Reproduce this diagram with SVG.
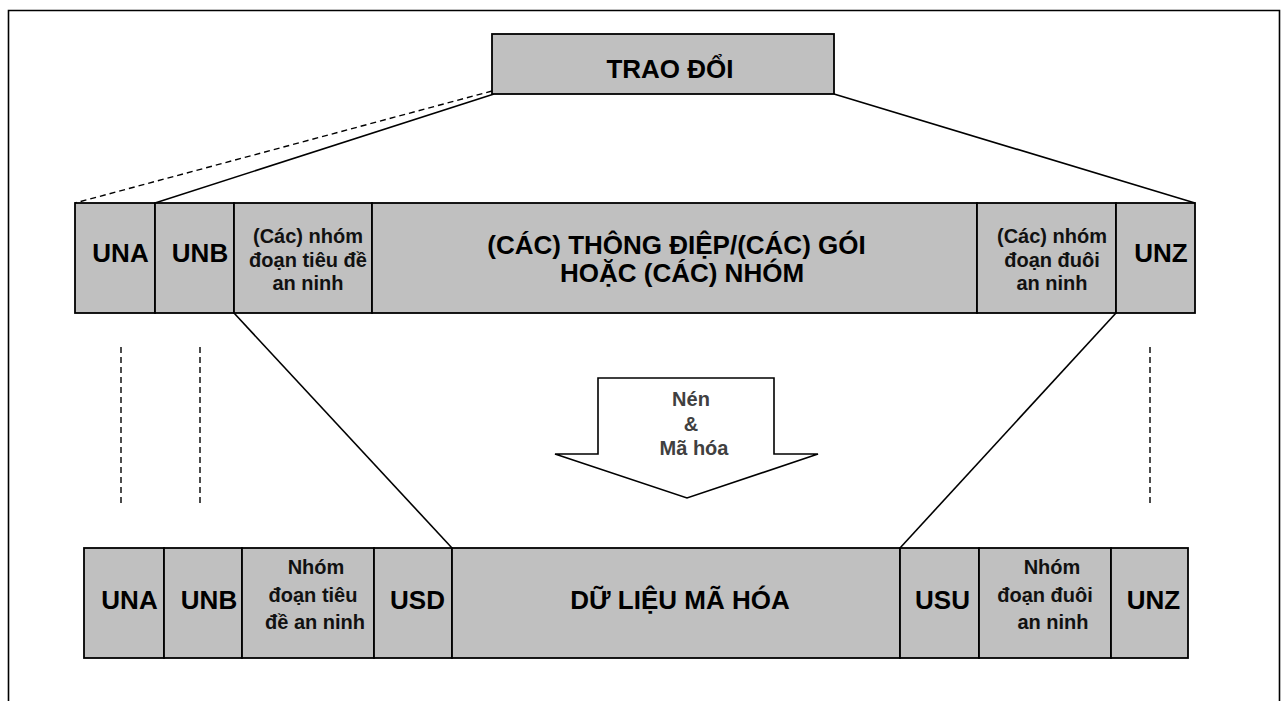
<svg xmlns="http://www.w3.org/2000/svg" width="1282" height="701" viewBox="0 0 1282 701">
<style>
.b{fill:#c0c0c0;stroke:#000;stroke-width:1.8}
.l{stroke:#000;stroke-width:1.6;fill:none}
.d{stroke:#000;stroke-width:1.4;fill:none;stroke-dasharray:6,4}
.t{font-family:"Liberation Sans",Arial,sans-serif;font-weight:bold;text-anchor:middle;fill:#000}
.big{font-size:26px}
.sm{font-size:20px;fill:#111}
.g{font-size:20px;fill:#404040}
</style>
<rect width="1282" height="701" fill="#fff"/>
<path d="M8.5 720 V10.5 H1279.5 V720" class="l" stroke-width="2"/>
<g id="connectors">
<line x1="492" y1="91" x2="75" y2="203" class="d"/>
<line x1="494" y1="94" x2="155" y2="203" class="l"/>
<line x1="834" y1="94" x2="1195" y2="203" class="l"/>
<line x1="234" y1="313" x2="452" y2="548" class="l"/>
<line x1="1116" y1="313" x2="900" y2="548" class="l"/>
<line x1="121" y1="347" x2="121" y2="507" class="d"/>
<line x1="200" y1="347" x2="200" y2="507" class="d"/>
<line x1="1150" y1="347" x2="1150" y2="507" class="d"/>
</g>
<g id="trao-doi">
<rect x="492" y="34" width="342" height="60" class="b"/>
<text x="670" y="78" class="t big">TRAO ĐỔI</text>
</g>
<g id="row1">
<rect x="75" y="203" width="80" height="110" class="b"/>
<text x="120.5" y="262" class="t big">UNA</text>
<rect x="155" y="203" width="79" height="110" class="b"/>
<text x="200" y="262" class="t big">UNB</text>
<rect x="234" y="203" width="138" height="110" class="b"/>
<text x="308" y="243" class="t sm">(Các) nhóm</text>
<text x="308" y="267" class="t sm">đoạn tiêu đề</text>
<text x="308" y="290" class="t sm">an ninh</text>
<rect x="372" y="203" width="605" height="110" class="b"/>
<text x="676.5" y="254" class="t big">(CÁC) THÔNG ĐIỆP/(CÁC) GÓI</text>
<text x="682" y="282" class="t big">HOẶC (CÁC) NHÓM</text>
<rect x="977" y="203" width="139" height="110" class="b"/>
<text x="1052" y="243" class="t sm">(Các) nhóm</text>
<text x="1052" y="267" class="t sm">đoạn đuôi</text>
<text x="1052" y="290" class="t sm">an ninh</text>
<rect x="1116" y="203" width="79" height="110" class="b"/>
<text x="1161" y="262" class="t big">UNZ</text>
</g>
<g id="arrow">
<path d="M598 378 H774 V454 H818 L687 498 L555 454 H598 Z" fill="#fff" stroke="#000" stroke-width="1.6"/>
<text x="691" y="406" class="t g">Nén</text>
<text x="691" y="431" class="t g">&amp;</text>
<text x="694" y="455" class="t g">Mã hóa</text>
</g>
<g id="row2">
<rect x="84" y="548" width="80" height="110" class="b"/>
<text x="129.5" y="609" class="t big">UNA</text>
<rect x="164" y="548" width="78" height="110" class="b"/>
<text x="209" y="609" class="t big">UNB</text>
<rect x="242" y="548" width="132" height="110" class="b"/>
<text x="316" y="574" class="t sm">Nhóm</text>
<text x="313" y="602" class="t sm">đoạn tiêu</text>
<text x="315" y="629" class="t sm">đề an ninh</text>
<rect x="374" y="548" width="78" height="110" class="b"/>
<text x="417.5" y="609" class="t big">USD</text>
<rect x="452" y="548" width="448" height="110" class="b"/>
<text x="680" y="609" class="t big">DỮ LIỆU MÃ HÓA</text>
<rect x="900" y="548" width="79" height="110" class="b"/>
<text x="942.5" y="609" class="t big">USU</text>
<rect x="979" y="548" width="132" height="110" class="b"/>
<text x="1052" y="574" class="t sm">Nhóm</text>
<text x="1045" y="602" class="t sm">đoạn đuôi</text>
<text x="1053" y="629" class="t sm">an ninh</text>
<rect x="1111" y="548" width="77" height="110" class="b"/>
<text x="1153.5" y="609" class="t big">UNZ</text>
</g>
</svg>
